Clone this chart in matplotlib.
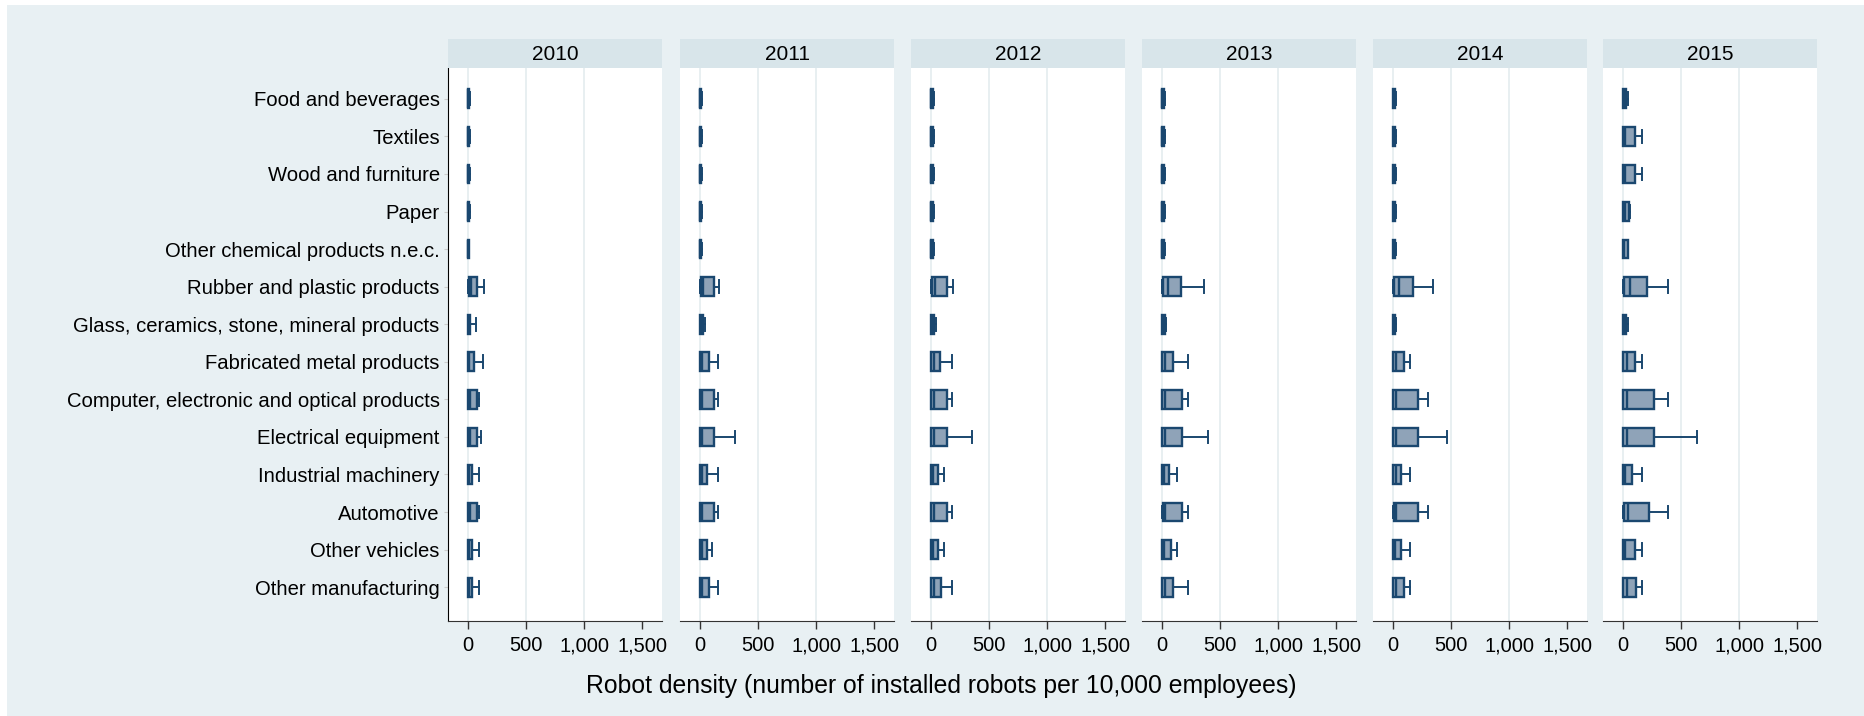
import numpy as np
import matplotlib.pyplot as plt
from matplotlib.patches import Rectangle

plt.rcParams['font.family'] = ['Liberation Sans', 'DejaVu Sans']

sectors = [
    'Food and beverages',
    'Textiles',
    'Wood and furniture',
    'Paper',
    'Other chemical products n.e.c.',
    'Rubber and plastic products',
    'Glass, ceramics, stone, mineral products',
    'Fabricated metal products',
    'Computer, electronic and optical products',
    'Electrical equipment',
    'Industrial machinery',
    'Automotive',
    'Other vehicles',
    'Other manufacturing',
]
years = [2010, 2011, 2012, 2013, 2014, 2015]

# box stats per year, rows in sector order (lower whisker ~0 everywhere)
q1_2010 = [0, 0, 0, 0, 0, 5, 0, 3, 3, 3, 2, 3, 2, 2]
med_2010 = [2, 2, 2, 2, 2, 30, 5, 12, 20, 18, 10, 20, 10, 8]
q3_2010 = [10, 10, 10, 10, 8, 77, 20, 55, 77, 77, 37, 77, 37, 37]
hi_2010 = [15, 15, 15, 15, 12, 140, 72, 130, 95, 112, 95, 95, 95, 95]

q1_2011 = [0, 0, 0, 0, 0, 10, 0, 3, 3, 3, 3, 3, 3, 3]
med_2011 = [3, 3, 3, 3, 3, 28, 5, 20, 20, 20, 15, 20, 15, 20]
q3_2011 = [12, 12, 12, 12, 12, 120, 25, 77, 120, 120, 60, 120, 60, 77]
hi_2011 = [20, 20, 20, 20, 20, 164, 40, 158, 158, 298, 158, 158, 106, 158]

q1_2012 = [0, 0, 0, 0, 0, 12, 0, 3, 3, 3, 3, 3, 3, 3]
med_2012 = [3, 3, 3, 3, 3, 35, 5, 25, 25, 25, 20, 25, 20, 25]
q3_2012 = [15, 15, 15, 15, 15, 141, 25, 80, 141, 141, 63, 141, 63, 86]
hi_2012 = [25, 25, 25, 25, 25, 189, 40, 184, 184, 356, 112, 184, 112, 184]

q1_2013 = [0, 0, 0, 0, 0, 11, 0, 3, 3, 3, 3, 5, 3, 3]
med_2013 = [4, 4, 4, 4, 4, 55, 6, 25, 25, 25, 20, 25, 20, 25]
q3_2013 = [18, 18, 18, 18, 18, 161, 22, 92, 169, 169, 63, 169, 75, 92]
hi_2013 = [30, 28, 28, 28, 28, 362, 35, 224, 224, 396, 126, 224, 126, 224]

q1_2014 = [0, 0, 0, 0, 0, 9, 0, 3, 3, 3, 3, 5, 3, 3]
med_2014 = [5, 5, 5, 5, 5, 55, 6, 30, 30, 30, 25, 30, 20, 30]
q3_2014 = [20, 18, 18, 18, 18, 175, 20, 95, 218, 218, 66, 218, 72, 98]
hi_2014 = [30, 28, 28, 28, 28, 344, 30, 146, 298, 468, 146, 298, 146, 146]

q1_2015 = [0, 3, 3, 3, 0, 11, 0, 3, 3, 3, 3, 11, 3, 3]
med_2015 = [15, 20, 20, 20, 12, 57, 8, 35, 35, 35, 20, 45, 20, 35]
q3_2015 = [30, 100, 103, 52, 40, 210, 30, 103, 270, 270, 75, 227, 100, 109]
hi_2015 = [45, 160, 160, 57, 45, 385, 45, 160, 385, 634, 160, 385, 160, 160]

stats_by_year = {
    2010: (q1_2010, med_2010, q3_2010, hi_2010),
    2011: (q1_2011, med_2011, q3_2011, hi_2011),
    2012: (q1_2012, med_2012, q3_2012, hi_2012),
    2013: (q1_2013, med_2013, q3_2013, hi_2013),
    2014: (q1_2014, med_2014, q3_2014, hi_2014),
    2015: (q1_2015, med_2015, q3_2015, hi_2015),
}

xticks = [0, 500, 1000, 1500]
xticklabels = ['0', '500', '1,000', '1,500']

navy = '#1a476f'
boxfill = '#8fa3b8'
bg = '#e8f0f3'
strip = '#d8e5ea'
gridc = '#e4ecef'

W, H = 1865, 716
fig = plt.figure(figsize=(W / 100, H / 100), dpi=100, facecolor='white')
fig.patches.append(Rectangle((7 / W, 0), 1, 1 - 5 / H, transform=fig.transFigure,
                             facecolor=bg, edgecolor='none', zorder=-10))

lefts = [448, 680, 911, 1142, 1373, 1603]
pw = 214
plot_top, plot_bot = 68, 621
strip_top = 39

for i, yr in enumerate(years):
    x0 = lefts[i]
    ax = fig.add_axes([x0 / W, 1 - plot_bot / H, pw / W, (plot_bot - plot_top) / H])
    ax.set_facecolor('white')
    q1, med, q3, hi = stats_by_year[yr]
    stats = []
    for j in range(len(sectors)):
        stats.append(dict(med=med[j], q1=q1[j], q3=q3[j], whislo=0, whishi=hi[j], fliers=[]))
    ax.bxp(stats, positions=np.arange(len(sectors)), orientation='horizontal',
           widths=0.5, capwidths=0.34, patch_artist=True, showfliers=False,
           boxprops=dict(facecolor=boxfill, edgecolor=navy, linewidth=1.7),
           medianprops=dict(color=navy, linewidth=1.7),
           whiskerprops=dict(color=navy, linewidth=1.4),
           capprops=dict(color=navy, linewidth=1.4))
    ax.set_xlim(-172, 1672)
    ax.set_ylim(13.9, -0.82)
    for g in [0, 500, 1000]:
        ax.axvline(g, color=gridc, lw=1.2, zorder=0)
    ax.set_xticks(xticks)
    ax.set_xticklabels(xticklabels, fontsize=14.5)
    ax.tick_params(axis='x', length=6, width=1, color='#333333', pad=5)
    for s in ['top', 'right']:
        ax.spines[s].set_visible(False)
    ax.spines['bottom'].set_color('#333333')
    if i == 0:
        ax.set_yticks(np.arange(len(sectors)))
        ax.set_yticklabels(sectors, fontsize=14.6)
        ax.tick_params(axis='y', length=3, width=0.8, color='#cccccc', pad=3)
        ax.spines['left'].set_color('black')
    else:
        ax.set_yticks([])
        ax.spines['left'].set_visible(False)

    sax = fig.add_axes([x0 / W, 1 - plot_top / H, pw / W, (plot_top - strip_top) / H])
    sax.set_facecolor(strip)
    sax.set_xticks([])
    sax.set_yticks([])
    for s in sax.spines.values():
        s.set_visible(False)
    sax.text(0.5, 0.47, str(yr), ha='center', va='center', fontsize=15, transform=sax.transAxes)

fig.text(941 / W, 1 - 686 / H, 'Robot density (number of installed robots per 10,000 employees)',
         ha='center', va='center', fontsize=17.8)

fig.savefig('out.png', dpi=100, facecolor=fig.get_facecolor())
